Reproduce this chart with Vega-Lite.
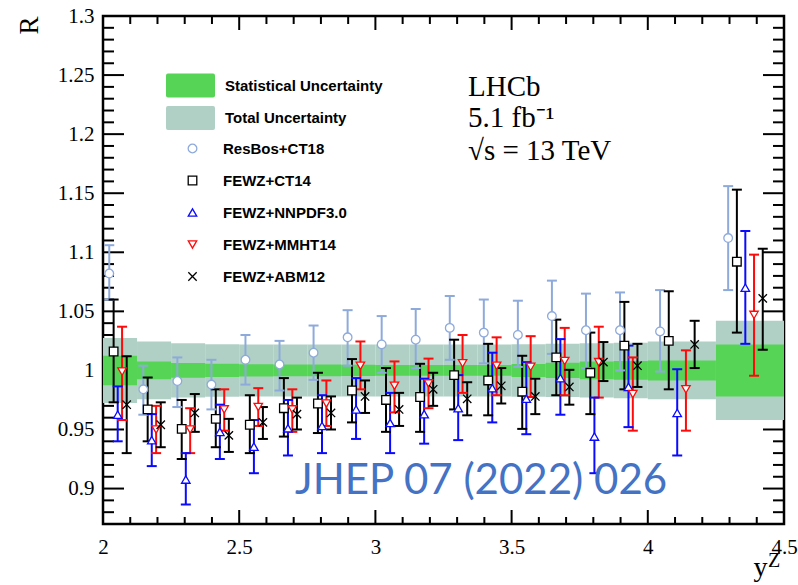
{
  "$schema": "https://vega.github.io/schema/vega-lite/v6.json",
  "width": 681,
  "height": 508,
  "autosize": {"type": "none"},
  "padding": {"left": 103, "top": 16, "right": 14, "bottom": 61},
  "background": "white",
  "config": {
    "view": {"stroke": "black", "strokeWidth": 2.5},
    "axis": {"grid": false, "domain": false, "ticks": false, "labelFont": "Liberation Serif", "labelFontSize": 21, "labelColor": "black", "labelFlush": false, "labelOverlap": false, "format": "~g"}
  },
  "datasets": {
    "xmajB": [{"v": 2.5, "e": 0.87}, {"v": 3, "e": 0.87}, {"v": 3.5, "e": 0.87}, {"v": 4, "e": 0.87}],
    "xmajT": [{"v": 2.5, "e": 1.3}, {"v": 3, "e": 1.3}, {"v": 3.5, "e": 1.3}, {"v": 4, "e": 1.3}],
    "xminB": [{"v": 2.1, "e": 0.87}, {"v": 2.2, "e": 0.87}, {"v": 2.3, "e": 0.87}, {"v": 2.4, "e": 0.87}, {"v": 2.6, "e": 0.87}, {"v": 2.7, "e": 0.87}, {"v": 2.8, "e": 0.87}, {"v": 2.9, "e": 0.87}, {"v": 3.1, "e": 0.87}, {"v": 3.2, "e": 0.87}, {"v": 3.3, "e": 0.87}, {"v": 3.4, "e": 0.87}, {"v": 3.6, "e": 0.87}, {"v": 3.7, "e": 0.87}, {"v": 3.8, "e": 0.87}, {"v": 3.9, "e": 0.87}, {"v": 4.1, "e": 0.87}, {"v": 4.2, "e": 0.87}, {"v": 4.3, "e": 0.87}, {"v": 4.4, "e": 0.87}],
    "xminT": [{"v": 2.1, "e": 1.3}, {"v": 2.2, "e": 1.3}, {"v": 2.3, "e": 1.3}, {"v": 2.4, "e": 1.3}, {"v": 2.6, "e": 1.3}, {"v": 2.7, "e": 1.3}, {"v": 2.8, "e": 1.3}, {"v": 2.9, "e": 1.3}, {"v": 3.1, "e": 1.3}, {"v": 3.2, "e": 1.3}, {"v": 3.3, "e": 1.3}, {"v": 3.4, "e": 1.3}, {"v": 3.6, "e": 1.3}, {"v": 3.7, "e": 1.3}, {"v": 3.8, "e": 1.3}, {"v": 3.9, "e": 1.3}, {"v": 4.1, "e": 1.3}, {"v": 4.2, "e": 1.3}, {"v": 4.3, "e": 1.3}, {"v": 4.4, "e": 1.3}],
    "ymajL": [{"v": 0.9, "e": 2}, {"v": 0.95, "e": 2}, {"v": 1, "e": 2}, {"v": 1.05, "e": 2}, {"v": 1.1, "e": 2}, {"v": 1.15, "e": 2}, {"v": 1.2, "e": 2}, {"v": 1.25, "e": 2}],
    "ymajR": [{"v": 0.9, "e": 4.5}, {"v": 0.95, "e": 4.5}, {"v": 1, "e": 4.5}, {"v": 1.05, "e": 4.5}, {"v": 1.1, "e": 4.5}, {"v": 1.15, "e": 4.5}, {"v": 1.2, "e": 4.5}, {"v": 1.25, "e": 4.5}],
    "yminL": [{"v": 0.88, "e": 2}, {"v": 0.89, "e": 2}, {"v": 0.91, "e": 2}, {"v": 0.92, "e": 2}, {"v": 0.93, "e": 2}, {"v": 0.94, "e": 2}, {"v": 0.96, "e": 2}, {"v": 0.97, "e": 2}, {"v": 0.98, "e": 2}, {"v": 0.99, "e": 2}, {"v": 1.01, "e": 2}, {"v": 1.02, "e": 2}, {"v": 1.03, "e": 2}, {"v": 1.04, "e": 2}, {"v": 1.06, "e": 2}, {"v": 1.07, "e": 2}, {"v": 1.08, "e": 2}, {"v": 1.09, "e": 2}, {"v": 1.11, "e": 2}, {"v": 1.12, "e": 2}, {"v": 1.13, "e": 2}, {"v": 1.14, "e": 2}, {"v": 1.16, "e": 2}, {"v": 1.17, "e": 2}, {"v": 1.18, "e": 2}, {"v": 1.19, "e": 2}, {"v": 1.21, "e": 2}, {"v": 1.22, "e": 2}, {"v": 1.23, "e": 2}, {"v": 1.24, "e": 2}, {"v": 1.26, "e": 2}, {"v": 1.27, "e": 2}, {"v": 1.28, "e": 2}, {"v": 1.29, "e": 2}],
    "yminR": [{"v": 0.88, "e": 4.5}, {"v": 0.89, "e": 4.5}, {"v": 0.91, "e": 4.5}, {"v": 0.92, "e": 4.5}, {"v": 0.93, "e": 4.5}, {"v": 0.94, "e": 4.5}, {"v": 0.96, "e": 4.5}, {"v": 0.97, "e": 4.5}, {"v": 0.98, "e": 4.5}, {"v": 0.99, "e": 4.5}, {"v": 1.01, "e": 4.5}, {"v": 1.02, "e": 4.5}, {"v": 1.03, "e": 4.5}, {"v": 1.04, "e": 4.5}, {"v": 1.06, "e": 4.5}, {"v": 1.07, "e": 4.5}, {"v": 1.08, "e": 4.5}, {"v": 1.09, "e": 4.5}, {"v": 1.11, "e": 4.5}, {"v": 1.12, "e": 4.5}, {"v": 1.13, "e": 4.5}, {"v": 1.14, "e": 4.5}, {"v": 1.16, "e": 4.5}, {"v": 1.17, "e": 4.5}, {"v": 1.18, "e": 4.5}, {"v": 1.19, "e": 4.5}, {"v": 1.21, "e": 4.5}, {"v": 1.22, "e": 4.5}, {"v": 1.23, "e": 4.5}, {"v": 1.24, "e": 4.5}, {"v": 1.26, "e": 4.5}, {"v": 1.27, "e": 4.5}, {"v": 1.28, "e": 4.5}, {"v": 1.29, "e": 4.5}],
    "bands": [
      {"b": "Total Uncertainty", "x0": 2.0, "x1": 2.125, "y0": 0.9725, "y1": 1.0275},
      {"b": "Total Uncertainty", "x0": 2.125, "x1": 2.25, "y0": 0.9755, "y1": 1.0245},
      {"b": "Total Uncertainty", "x0": 2.25, "x1": 2.375, "y0": 0.977, "y1": 1.023},
      {"b": "Total Uncertainty", "x0": 2.375, "x1": 2.5, "y0": 0.9778, "y1": 1.0222},
      {"b": "Total Uncertainty", "x0": 2.5, "x1": 2.625, "y0": 0.978, "y1": 1.022},
      {"b": "Total Uncertainty", "x0": 2.625, "x1": 2.75, "y0": 0.978, "y1": 1.022},
      {"b": "Total Uncertainty", "x0": 2.75, "x1": 2.875, "y0": 0.978, "y1": 1.022},
      {"b": "Total Uncertainty", "x0": 2.875, "x1": 3.0, "y0": 0.978, "y1": 1.022},
      {"b": "Total Uncertainty", "x0": 3.0, "x1": 3.125, "y0": 0.978, "y1": 1.022},
      {"b": "Total Uncertainty", "x0": 3.125, "x1": 3.25, "y0": 0.978, "y1": 1.022},
      {"b": "Total Uncertainty", "x0": 3.25, "x1": 3.375, "y0": 0.978, "y1": 1.022},
      {"b": "Total Uncertainty", "x0": 3.375, "x1": 3.5, "y0": 0.978, "y1": 1.022},
      {"b": "Total Uncertainty", "x0": 3.5, "x1": 3.625, "y0": 0.9778, "y1": 1.0222},
      {"b": "Total Uncertainty", "x0": 3.625, "x1": 3.75, "y0": 0.9775, "y1": 1.0225},
      {"b": "Total Uncertainty", "x0": 3.75, "x1": 3.875, "y0": 0.977, "y1": 1.023},
      {"b": "Total Uncertainty", "x0": 3.875, "x1": 4.0, "y0": 0.9765, "y1": 1.0235},
      {"b": "Total Uncertainty", "x0": 4.0, "x1": 4.25, "y0": 0.9755, "y1": 1.0245},
      {"b": "Total Uncertainty", "x0": 4.25, "x1": 4.5, "y0": 0.958, "y1": 1.042},
      {"b": "Statistical Uncertainty", "x0": 2.0, "x1": 2.125, "y0": 0.9875, "y1": 1.0125},
      {"b": "Statistical Uncertainty", "x0": 2.125, "x1": 2.25, "y0": 0.9925, "y1": 1.0075},
      {"b": "Statistical Uncertainty", "x0": 2.25, "x1": 2.375, "y0": 0.9937, "y1": 1.0063},
      {"b": "Statistical Uncertainty", "x0": 2.375, "x1": 2.5, "y0": 0.9944, "y1": 1.0056},
      {"b": "Statistical Uncertainty", "x0": 2.5, "x1": 2.625, "y0": 0.9948, "y1": 1.0052},
      {"b": "Statistical Uncertainty", "x0": 2.625, "x1": 2.75, "y0": 0.995, "y1": 1.005},
      {"b": "Statistical Uncertainty", "x0": 2.75, "x1": 2.875, "y0": 0.995, "y1": 1.005},
      {"b": "Statistical Uncertainty", "x0": 2.875, "x1": 3.0, "y0": 0.9952, "y1": 1.0048},
      {"b": "Statistical Uncertainty", "x0": 3.0, "x1": 3.125, "y0": 0.9954, "y1": 1.0046},
      {"b": "Statistical Uncertainty", "x0": 3.125, "x1": 3.25, "y0": 0.9955, "y1": 1.0045},
      {"b": "Statistical Uncertainty", "x0": 3.25, "x1": 3.375, "y0": 0.9955, "y1": 1.0045},
      {"b": "Statistical Uncertainty", "x0": 3.375, "x1": 3.5, "y0": 0.9955, "y1": 1.0045},
      {"b": "Statistical Uncertainty", "x0": 3.5, "x1": 3.625, "y0": 0.9945, "y1": 1.0055},
      {"b": "Statistical Uncertainty", "x0": 3.625, "x1": 3.75, "y0": 0.9935, "y1": 1.0065},
      {"b": "Statistical Uncertainty", "x0": 3.75, "x1": 3.875, "y0": 0.9925, "y1": 1.0075},
      {"b": "Statistical Uncertainty", "x0": 3.875, "x1": 4.0, "y0": 0.992, "y1": 1.008},
      {"b": "Statistical Uncertainty", "x0": 4.0, "x1": 4.25, "y0": 0.9915, "y1": 1.0085},
      {"b": "Statistical Uncertainty", "x0": 4.25, "x1": 4.5, "y0": 0.978, "y1": 1.022}
    ],
    "pts": [
      {"m": "ResBos+CT18", "x": 2.023, "y": 1.082, "lo": 1.06, "hi": 1.106},
      {"m": "ResBos+CT18", "x": 2.148, "y": 0.984, "lo": 0.9625, "hi": 1.004},
      {"m": "ResBos+CT18", "x": 2.273, "y": 0.991, "lo": 0.969, "hi": 1.011},
      {"m": "ResBos+CT18", "x": 2.398, "y": 0.988, "lo": 0.967, "hi": 1.009},
      {"m": "ResBos+CT18", "x": 2.523, "y": 1.009, "lo": 0.988, "hi": 1.03},
      {"m": "ResBos+CT18", "x": 2.648, "y": 1.005, "lo": 0.983, "hi": 1.025},
      {"m": "ResBos+CT18", "x": 2.773, "y": 1.015, "lo": 0.992, "hi": 1.038},
      {"m": "ResBos+CT18", "x": 2.898, "y": 1.028, "lo": 1.004, "hi": 1.051},
      {"m": "ResBos+CT18", "x": 3.023, "y": 1.022, "lo": 0.998, "hi": 1.046},
      {"m": "ResBos+CT18", "x": 3.148, "y": 1.026, "lo": 1.002, "hi": 1.052},
      {"m": "ResBos+CT18", "x": 3.273, "y": 1.036, "lo": 1.009, "hi": 1.063},
      {"m": "ResBos+CT18", "x": 3.398, "y": 1.032, "lo": 1.006, "hi": 1.06},
      {"m": "ResBos+CT18", "x": 3.523, "y": 1.03, "lo": 1.003, "hi": 1.059},
      {"m": "ResBos+CT18", "x": 3.648, "y": 1.046, "lo": 1.014, "hi": 1.076},
      {"m": "ResBos+CT18", "x": 3.773, "y": 1.034, "lo": 1.002, "hi": 1.065},
      {"m": "ResBos+CT18", "x": 3.898, "y": 1.034, "lo": 1.0, "hi": 1.066},
      {"m": "ResBos+CT18", "x": 4.045, "y": 1.033, "lo": 0.999, "hi": 1.068},
      {"m": "ResBos+CT18", "x": 4.295, "y": 1.112, "lo": 1.068, "hi": 1.156},
      {"m": "FEWZ+CT14", "x": 2.039, "y": 1.016, "lo": 0.973, "hi": 1.06},
      {"m": "FEWZ+CT14", "x": 2.164, "y": 0.967, "lo": 0.94, "hi": 0.994},
      {"m": "FEWZ+CT14", "x": 2.289, "y": 0.9505, "lo": 0.925, "hi": 0.975},
      {"m": "FEWZ+CT14", "x": 2.414, "y": 0.959, "lo": 0.935, "hi": 0.984},
      {"m": "FEWZ+CT14", "x": 2.539, "y": 0.954, "lo": 0.93, "hi": 0.979},
      {"m": "FEWZ+CT14", "x": 2.664, "y": 0.968, "lo": 0.944, "hi": 0.9935},
      {"m": "FEWZ+CT14", "x": 2.789, "y": 0.972, "lo": 0.947, "hi": 0.998},
      {"m": "FEWZ+CT14", "x": 2.914, "y": 0.983, "lo": 0.956, "hi": 1.0096},
      {"m": "FEWZ+CT14", "x": 3.039, "y": 0.975, "lo": 0.948, "hi": 1.002},
      {"m": "FEWZ+CT14", "x": 3.164, "y": 0.9775, "lo": 0.948, "hi": 1.0056},
      {"m": "FEWZ+CT14", "x": 3.289, "y": 0.996, "lo": 0.967, "hi": 1.026},
      {"m": "FEWZ+CT14", "x": 3.414, "y": 0.9915, "lo": 0.962, "hi": 1.0225},
      {"m": "FEWZ+CT14", "x": 3.539, "y": 0.982, "lo": 0.9505, "hi": 1.0124},
      {"m": "FEWZ+CT14", "x": 3.664, "y": 1.011, "lo": 0.979, "hi": 1.043},
      {"m": "FEWZ+CT14", "x": 3.789, "y": 0.998, "lo": 0.963, "hi": 1.032},
      {"m": "FEWZ+CT14", "x": 3.914, "y": 1.021, "lo": 0.984, "hi": 1.058},
      {"m": "FEWZ+CT14", "x": 4.077, "y": 1.025, "lo": 0.984, "hi": 1.067},
      {"m": "FEWZ+CT14", "x": 4.327, "y": 1.092, "lo": 1.032, "hi": 1.153},
      {"m": "FEWZ+NNPDF3.0", "x": 2.054, "y": 0.9625, "lo": 0.94, "hi": 0.9865},
      {"m": "FEWZ+NNPDF3.0", "x": 2.179, "y": 0.941, "lo": 0.919, "hi": 0.963},
      {"m": "FEWZ+NNPDF3.0", "x": 2.304, "y": 0.9076, "lo": 0.8865, "hi": 0.93},
      {"m": "FEWZ+NNPDF3.0", "x": 2.429, "y": 0.948, "lo": 0.925, "hi": 0.971},
      {"m": "FEWZ+NNPDF3.0", "x": 2.554, "y": 0.9355, "lo": 0.913, "hi": 0.958},
      {"m": "FEWZ+NNPDF3.0", "x": 2.679, "y": 0.951, "lo": 0.928, "hi": 0.975},
      {"m": "FEWZ+NNPDF3.0", "x": 2.804, "y": 0.953, "lo": 0.93, "hi": 0.979},
      {"m": "FEWZ+NNPDF3.0", "x": 2.929, "y": 0.967, "lo": 0.942, "hi": 0.9935},
      {"m": "FEWZ+NNPDF3.0", "x": 3.054, "y": 0.9555, "lo": 0.93, "hi": 0.981},
      {"m": "FEWZ+NNPDF3.0", "x": 3.179, "y": 0.963, "lo": 0.938, "hi": 0.993},
      {"m": "FEWZ+NNPDF3.0", "x": 3.304, "y": 0.968, "lo": 0.941, "hi": 0.996},
      {"m": "FEWZ+NNPDF3.0", "x": 3.429, "y": 0.985, "lo": 0.956, "hi": 1.015},
      {"m": "FEWZ+NNPDF3.0", "x": 3.554, "y": 0.976, "lo": 0.946, "hi": 1.007},
      {"m": "FEWZ+NNPDF3.0", "x": 3.679, "y": 0.9935, "lo": 0.9625, "hi": 1.0265},
      {"m": "FEWZ+NNPDF3.0", "x": 3.804, "y": 0.944, "lo": 0.913, "hi": 0.977},
      {"m": "FEWZ+NNPDF3.0", "x": 3.929, "y": 0.986, "lo": 0.952, "hi": 1.021},
      {"m": "FEWZ+NNPDF3.0", "x": 4.108, "y": 0.964, "lo": 0.928, "hi": 1.001},
      {"m": "FEWZ+NNPDF3.0", "x": 4.358, "y": 1.07, "lo": 1.0225, "hi": 1.118},
      {"m": "FEWZ+MMHT14", "x": 2.07, "y": 0.999, "lo": 0.958, "hi": 1.037},
      {"m": "FEWZ+MMHT14", "x": 2.195, "y": 0.95, "lo": 0.93, "hi": 0.97},
      {"m": "FEWZ+MMHT14", "x": 2.32, "y": 0.95, "lo": 0.93, "hi": 0.968},
      {"m": "FEWZ+MMHT14", "x": 2.445, "y": 0.967, "lo": 0.949, "hi": 0.984},
      {"m": "FEWZ+MMHT14", "x": 2.57, "y": 0.969, "lo": 0.953, "hi": 0.985},
      {"m": "FEWZ+MMHT14", "x": 2.695, "y": 0.967, "lo": 0.948, "hi": 0.984},
      {"m": "FEWZ+MMHT14", "x": 2.82, "y": 0.972, "lo": 0.953, "hi": 0.9915},
      {"m": "FEWZ+MMHT14", "x": 2.945, "y": 1.004, "lo": 0.984, "hi": 1.0245},
      {"m": "FEWZ+MMHT14", "x": 3.07, "y": 0.987, "lo": 0.9645, "hi": 1.0076},
      {"m": "FEWZ+MMHT14", "x": 3.195, "y": 0.989, "lo": 0.968, "hi": 1.01},
      {"m": "FEWZ+MMHT14", "x": 3.32, "y": 1.006, "lo": 0.981, "hi": 1.03},
      {"m": "FEWZ+MMHT14", "x": 3.445, "y": 1.004, "lo": 0.979, "hi": 1.028},
      {"m": "FEWZ+MMHT14", "x": 3.57, "y": 1.003, "lo": 0.9775, "hi": 1.029},
      {"m": "FEWZ+MMHT14", "x": 3.695, "y": 1.008, "lo": 0.979, "hi": 1.036},
      {"m": "FEWZ+MMHT14", "x": 3.82, "y": 1.007, "lo": 0.977, "hi": 1.037},
      {"m": "FEWZ+MMHT14", "x": 3.945, "y": 0.98, "lo": 0.949, "hi": 1.011},
      {"m": "FEWZ+MMHT14", "x": 4.14, "y": 0.984, "lo": 0.949, "hi": 1.017},
      {"m": "FEWZ+MMHT14", "x": 4.39, "y": 1.047, "lo": 0.9955, "hi": 1.098},
      {"m": "FEWZ+ABM12", "x": 2.087, "y": 0.971, "lo": 0.93, "hi": 1.012},
      {"m": "FEWZ+ABM12", "x": 2.212, "y": 0.954, "lo": 0.935, "hi": 0.973},
      {"m": "FEWZ+ABM12", "x": 2.337, "y": 0.964, "lo": 0.948, "hi": 0.98},
      {"m": "FEWZ+ABM12", "x": 2.462, "y": 0.945, "lo": 0.931, "hi": 0.959},
      {"m": "FEWZ+ABM12", "x": 2.587, "y": 0.956, "lo": 0.942, "hi": 0.969},
      {"m": "FEWZ+ABM12", "x": 2.712, "y": 0.963, "lo": 0.95, "hi": 0.977},
      {"m": "FEWZ+ABM12", "x": 2.837, "y": 0.964, "lo": 0.95, "hi": 0.978},
      {"m": "FEWZ+ABM12", "x": 2.962, "y": 0.978, "lo": 0.964, "hi": 0.9915},
      {"m": "FEWZ+ABM12", "x": 3.087, "y": 0.967, "lo": 0.953, "hi": 0.981},
      {"m": "FEWZ+ABM12", "x": 3.212, "y": 0.984, "lo": 0.97, "hi": 0.998},
      {"m": "FEWZ+ABM12", "x": 3.337, "y": 0.976, "lo": 0.962, "hi": 0.99},
      {"m": "FEWZ+ABM12", "x": 3.462, "y": 0.987, "lo": 0.972, "hi": 1.002},
      {"m": "FEWZ+ABM12", "x": 3.587, "y": 0.978, "lo": 0.963, "hi": 0.993},
      {"m": "FEWZ+ABM12", "x": 3.712, "y": 0.986, "lo": 0.971, "hi": 1.0005},
      {"m": "FEWZ+ABM12", "x": 3.837, "y": 1.007, "lo": 0.991, "hi": 1.024},
      {"m": "FEWZ+ABM12", "x": 3.962, "y": 1.004, "lo": 0.986, "hi": 1.0225},
      {"m": "FEWZ+ABM12", "x": 4.172, "y": 1.022, "lo": 1.002, "hi": 1.042},
      {"m": "FEWZ+ABM12", "x": 4.422, "y": 1.061, "lo": 1.0175, "hi": 1.103}
    ],
    "ann": [
      {"t": "LHCb", "x": 3.34, "y": 1.232},
      {"t": "5.1 fb⁻¹", "x": 3.34, "y": 1.206},
      {"t": "√s = 13 TeV", "x": 3.34, "y": 1.178}
    ],
    "sup": [{"t": "Z", "x": 4.441, "y": 0.8332}],
    "wm": [{"t": "JHEP 07 (2022) 026", "x": 2.705, "y": 0.8958}]
  },
  "layer": [
    {
      "data": {"name": "xmajB"},
      "mark": {"type": "rule", "strokeWidth": 2, "color": "black", "y2Offset": -14},
      "encoding": {"x": {"field": "v", "type": "quantitative"}, "y": {"field": "e", "type": "quantitative"}, "y2": {"field": "e"}}
    },
    {
      "data": {"name": "xminB"},
      "mark": {"type": "rule", "strokeWidth": 2, "color": "black", "y2Offset": -7},
      "encoding": {"x": {"field": "v", "type": "quantitative"}, "y": {"field": "e", "type": "quantitative"}, "y2": {"field": "e"}}
    },
    {
      "data": {"name": "xmajT"},
      "mark": {"type": "rule", "strokeWidth": 2, "color": "black", "y2Offset": 14},
      "encoding": {"x": {"field": "v", "type": "quantitative"}, "y": {"field": "e", "type": "quantitative"}, "y2": {"field": "e"}}
    },
    {
      "data": {"name": "xminT"},
      "mark": {"type": "rule", "strokeWidth": 2, "color": "black", "y2Offset": 8},
      "encoding": {"x": {"field": "v", "type": "quantitative"}, "y": {"field": "e", "type": "quantitative"}, "y2": {"field": "e"}}
    },
    {
      "data": {"name": "ymajL"},
      "mark": {"type": "rule", "strokeWidth": 2, "color": "black", "x2Offset": 21},
      "encoding": {"y": {"field": "v", "type": "quantitative"}, "x": {"field": "e", "type": "quantitative"}, "x2": {"field": "e"}}
    },
    {
      "data": {"name": "yminL"},
      "mark": {"type": "rule", "strokeWidth": 2, "color": "black", "x2Offset": 11},
      "encoding": {"y": {"field": "v", "type": "quantitative"}, "x": {"field": "e", "type": "quantitative"}, "x2": {"field": "e"}}
    },
    {
      "data": {"name": "ymajR"},
      "mark": {"type": "rule", "strokeWidth": 2, "color": "black", "x2Offset": -21},
      "encoding": {"y": {"field": "v", "type": "quantitative"}, "x": {"field": "e", "type": "quantitative"}, "x2": {"field": "e"}}
    },
    {
      "data": {"name": "yminR"},
      "mark": {"type": "rule", "strokeWidth": 2, "color": "black", "x2Offset": -11},
      "encoding": {"y": {"field": "v", "type": "quantitative"}, "x": {"field": "e", "type": "quantitative"}, "x2": {"field": "e"}}
    },
    {
      "data": {"name": "bands"},
      "mark": {"type": "rect", "strokeWidth": 0},
      "encoding": {
        "x": {"field": "x0", "type": "quantitative", "scale": {"domain": [2, 4.5], "nice": false, "zero": false},
              "axis": {"orient": "bottom", "values": [2, 2.5, 3, 3.5, 4, 4.5], "domain": false, "ticks": false, "labelPadding": 12, "title": "y", "titleFont": "Liberation Serif", "titleFontSize": 28, "titleFontWeight": "normal", "titleColor": "black", "titleX": 664, "titleY": 51, "titleAlign": "right", "titleBaseline": "alphabetic"}},
        "x2": {"field": "x1"},
        "y": {"field": "y0", "type": "quantitative", "scale": {"domain": [0.87, 1.3], "nice": false, "zero": false},
              "axis": {"orient": "left", "values": [0.9, 0.95, 1, 1.05, 1.1, 1.15, 1.2, 1.25, 1.3], "domain": false, "ticks": false, "labelPadding": 9, "title": "R", "titleFont": "Liberation Serif", "titleFontSize": 27, "titleFontWeight": "normal", "titleColor": "black", "titleAngle": -90, "titleX": -66, "titleY": 0, "titleAlign": "right", "titleBaseline": "alphabetic"}},
        "y2": {"field": "y1"},
        "fill": {"field": "b", "type": "nominal",
                 "scale": {"domain": ["Statistical Uncertainty", "Total Uncertainty"], "range": ["#56d456", "#b0d0c5"]},
                 "legend": {"orient": "none", "legendX": 75, "legendY": 57, "title": null, "padding": 0,
                            "symbolType": "M-1.84,-0.98L1.84,-0.98Q2,-0.98,2,-0.82L2,0.82Q2,0.98,1.84,0.98L-1.84,0.98Q-2,0.98,-2,0.82L-2,-0.82Q-2,-0.98,-1.84,-0.98Z",
                            "symbolSize": 600, "symbolStrokeWidth": 0, "symbolOpacity": 1,
                            "labelFont": "Liberation Sans", "labelFontWeight": "bold", "labelFontSize": 15, "labelColor": "black", "labelOffset": 22, "rowPadding": 7.5}}
      }
    },
    {
      "data": {"name": "pts"},
      "mark": {"type": "rule", "strokeWidth": 2},
      "encoding": {
        "x": {"field": "x", "type": "quantitative"},
        "y": {"field": "lo", "type": "quantitative"},
        "y2": {"field": "hi"},
        "stroke": {"field": "m", "type": "nominal",
                   "scale": {"domain": ["ResBos+CT18", "FEWZ+CT14", "FEWZ+NNPDF3.0", "FEWZ+MMHT14", "FEWZ+ABM12"], "range": ["#8eaadb", "#000000", "#0a0aff", "#ff0a0a", "#000000"]},
                   "legend": {"orient": "none", "legendX": 82, "legendY": 125, "title": null, "padding": 0, "symbolStrokeWidth": 1.3, "symbolFillColor": "white",
                              "labelFont": "Liberation Sans", "labelFontWeight": "bold", "labelFontSize": 15, "labelColor": "black", "labelOffset": 23, "rowPadding": 16}}
      }
    },
    {
      "data": {"name": "pts"},
      "mark": {"type": "rule", "strokeWidth": 2, "xOffset": -5, "x2Offset": 5},
      "encoding": {
        "x": {"field": "x", "type": "quantitative"},
        "x2": {"field": "x"},
        "y": {"field": "lo", "type": "quantitative"},
        "stroke": {"field": "m", "type": "nominal"}
      }
    },
    {
      "data": {"name": "pts"},
      "mark": {"type": "rule", "strokeWidth": 2, "xOffset": -5, "x2Offset": 5},
      "encoding": {
        "x": {"field": "x", "type": "quantitative"},
        "x2": {"field": "x"},
        "y": {"field": "hi", "type": "quantitative"},
        "stroke": {"field": "m", "type": "nominal"}
      }
    },
    {
      "data": {"name": "pts"},
      "mark": {"type": "point", "filled": false, "fill": "white", "strokeWidth": 1.3, "opacity": 1},
      "encoding": {
        "x": {"field": "x", "type": "quantitative"},
        "y": {"field": "y", "type": "quantitative"},
        "stroke": {"field": "m", "type": "nominal"},
        "shape": {"field": "m", "type": "nominal",
                  "scale": {"domain": ["ResBos+CT18", "FEWZ+CT14", "FEWZ+NNPDF3.0", "FEWZ+MMHT14", "FEWZ+ABM12"], "range": ["circle", "square", "triangle-up", "triangle-down", "M-1,-1L1,1M-1,1L1,-1"]}},
        "size": {"field": "m", "type": "nominal",
                 "scale": {"domain": ["ResBos+CT18", "FEWZ+CT14", "FEWZ+NNPDF3.0", "FEWZ+MMHT14", "FEWZ+ABM12"], "range": [75, 70, 65, 65, 30]}}
      }
    },
    {
      "data": {"name": "ann"},
      "mark": {"type": "text", "font": "Liberation Serif", "fontSize": 29, "align": "left", "baseline": "alphabetic", "color": "black"},
      "encoding": {
        "x": {"field": "x", "type": "quantitative"},
        "y": {"field": "y", "type": "quantitative"},
        "text": {"field": "t"}
      }
    },
    {
      "data": {"name": "sup"},
      "mark": {"type": "text", "font": "Liberation Serif", "fontSize": 20, "align": "left", "baseline": "alphabetic", "color": "black"},
      "encoding": {
        "x": {"field": "x", "type": "quantitative"},
        "y": {"field": "y", "type": "quantitative"},
        "text": {"field": "t"}
      }
    },
    {
      "data": {"name": "wm"},
      "mark": {"type": "text", "font": "Lato", "fontSize": 42, "align": "left", "baseline": "alphabetic", "color": "#4472c4"},
      "encoding": {
        "x": {"field": "x", "type": "quantitative"},
        "y": {"field": "y", "type": "quantitative"},
        "text": {"field": "t"}
      }
    }
  ]
}
